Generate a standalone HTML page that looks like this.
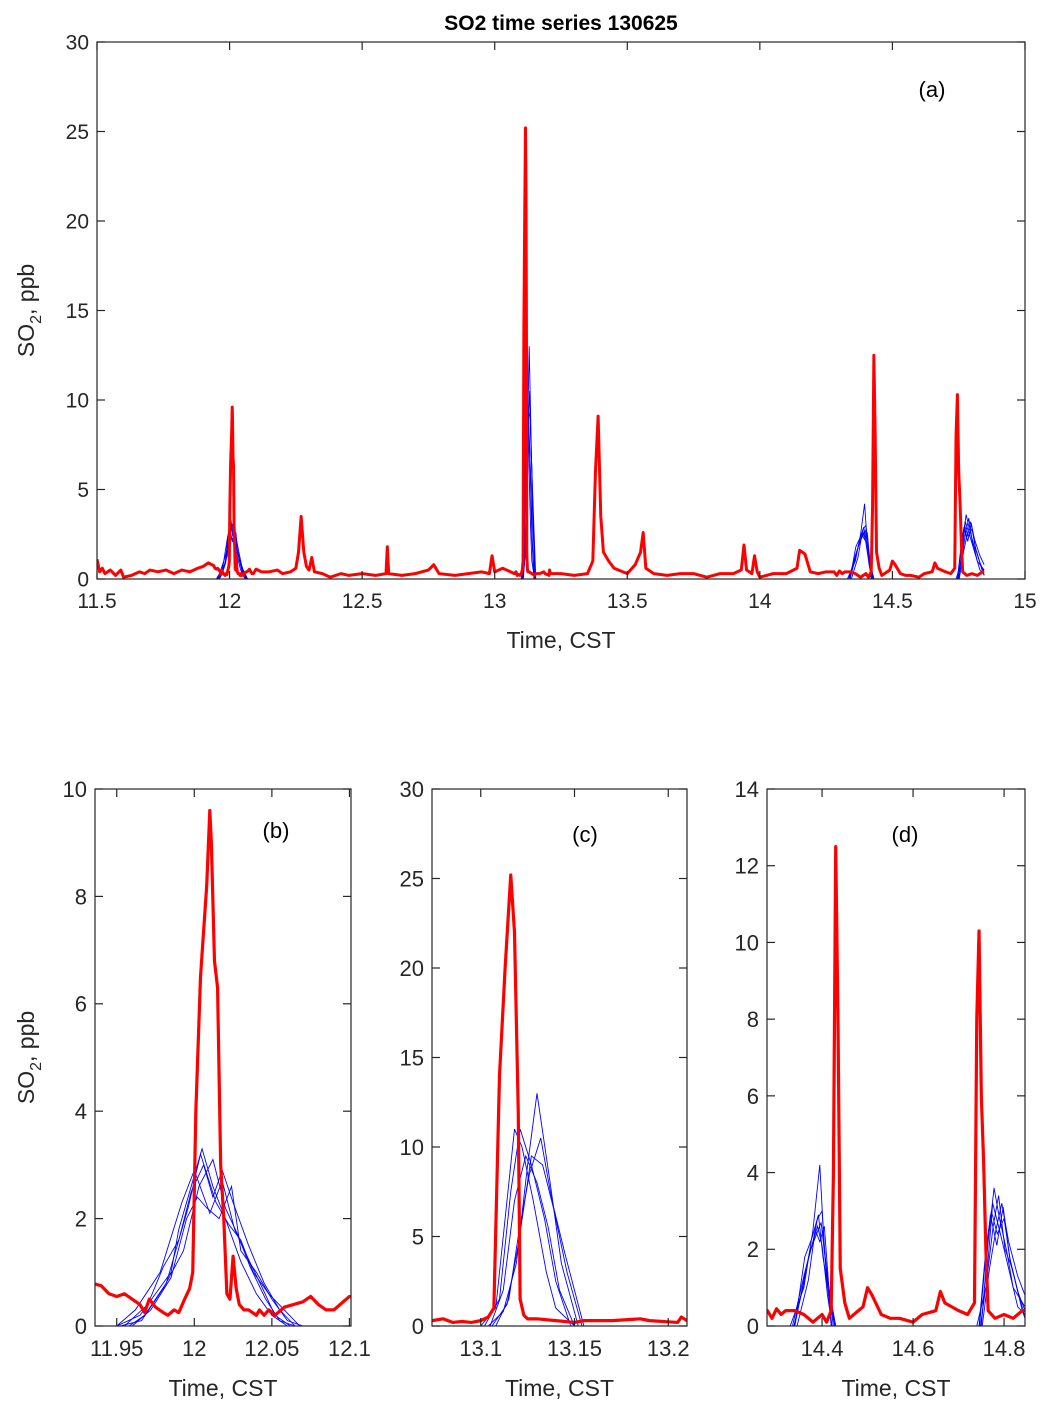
<!DOCTYPE html>
<html><head><meta charset="utf-8"><style>
body{margin:0;background:#fff}
svg{display:block;font-family:"Liberation Sans",Arial,sans-serif}
</style></head><body>
<svg id="fig" width="1056" height="1416" viewBox="0 0 1056 1416" xmlns="http://www.w3.org/2000/svg">
<text x="561" y="30" font-size="21" font-weight="bold" text-anchor="middle" fill="#000">SO2 time series 130625</text>
</svg>
<script>
// ---- data ----
const redT=[11.5,11.51,11.52,11.53,11.55,11.57,11.59,11.6,11.63,11.66,11.68,11.7,11.73,11.76,11.79,11.82,11.85,11.88,11.9,11.92,11.936,11.94,11.945,11.95,11.955,11.96,11.965,11.968,11.971,11.975,11.98,11.983,11.987,11.99,11.993,11.997,11.999,12.001,12.004,12.008,12.01,12.011,12.013,12.015,12.017,12.019,12.021,12.023,12.025,12.027,12.029,12.032,12.035,12.04,12.042,12.045,12.048,12.052,12.058,12.07,12.075,12.08,12.085,12.09,12.1,12.12,12.15,12.18,12.2,12.23,12.25,12.26,12.27,12.28,12.29,12.3,12.31,12.32,12.35,12.38,12.42,12.45,12.5,12.55,12.59,12.595,12.6,12.65,12.7,12.75,12.77,12.79,12.85,12.9,12.95,12.98,12.99,13.0,13.03,13.06,13.074,13.08,13.085,13.09,13.095,13.1,13.104,13.107,13.11,13.113,13.116,13.118,13.12,13.121,13.123,13.125,13.13,13.14,13.15,13.155,13.17,13.185,13.19,13.205,13.207,13.21,13.25,13.3,13.35,13.37,13.38,13.39,13.4,13.41,13.43,13.45,13.5,13.53,13.55,13.56,13.57,13.6,13.65,13.7,13.75,13.8,13.85,13.9,13.93,13.94,13.95,13.97,13.98,13.99,14.0,14.05,14.1,14.14,14.15,14.17,14.19,14.22,14.25,14.28,14.29,14.3,14.31,14.32,14.34,14.36,14.38,14.39,14.4,14.41,14.42,14.425,14.43,14.435,14.44,14.45,14.46,14.48,14.49,14.5,14.51,14.53,14.55,14.57,14.6,14.62,14.65,14.66,14.67,14.7,14.72,14.735,14.74,14.745,14.75,14.755,14.76,14.765,14.78,14.8,14.82,14.84,14.846];
const redV=[1.1,0.4,0.6,0.3,0.5,0.2,0.5,0.1,0.2,0.4,0.3,0.5,0.4,0.5,0.3,0.5,0.4,0.6,0.7,0.9,0.78,0.75,0.6,0.55,0.6,0.5,0.4,0.25,0.5,0.35,0.25,0.2,0.3,0.25,0.45,0.7,1.0,4.0,6.5,8.2,9.6,9.0,6.8,6.3,3.0,2.0,0.6,0.5,1.3,0.7,0.4,0.3,0.3,0.2,0.3,0.2,0.3,0.2,0.35,0.45,0.55,0.4,0.3,0.3,0.55,0.4,0.4,0.5,0.3,0.4,0.6,1.5,3.5,1.5,0.7,0.5,1.2,0.4,0.3,0.1,0.3,0.2,0.3,0.2,0.3,1.8,0.3,0.2,0.3,0.5,0.8,0.3,0.2,0.3,0.4,0.3,1.3,0.4,0.6,0.4,0.3,0.4,0.2,0.25,0.2,0.3,0.5,1.0,14,20,25.2,22,12,1.5,0.6,0.4,0.4,0.3,0.2,0.3,0.3,0.4,0.3,0.2,0.5,0.3,0.3,0.2,0.3,1.0,6,9.1,3.5,1.5,1.0,0.6,0.3,0.8,1.5,2.6,0.6,0.3,0.2,0.3,0.3,0.1,0.3,0.3,0.5,1.9,0.5,0.3,1.3,0.4,0.1,0.3,0.3,0.6,1.6,1.4,0.4,0.3,0.4,0.4,0.2,0.45,0.3,0.4,0.4,0.3,0.1,0.2,0.3,0.1,0.4,4,12.5,8,1.5,0.6,0.2,0.4,0.5,1.0,0.8,0.3,0.2,0.2,0.1,0.3,0.4,0.9,0.6,0.4,0.3,0.6,8,10.3,6,4.3,2,0.4,0.2,0.3,0.2,0.4,0.4];

const blueT1=[11.5,11.95,11.965,11.975,11.985,11.99,12.0,12.005,12.012,12.02,12.03,12.04,12.05,12.06,13.1,13.108,13.113,13.118,13.122,13.128,13.135,13.14,13.15,14.33,14.36,14.38,14.395,14.405,14.42,14.43,14.74,14.76,14.775,14.79,14.81,14.83,14.846];
const blueV1=[0,0,0.2,0.6,1.0,1.8,2.8,3.3,2.6,2.0,1.2,0.6,0.2,0,0,1.0,6,11,10,7,3,1,0,0,1,2.5,4.2,2,0.5,0,0,1,3.2,2.5,1.5,0.5,0.3];
const blueT2=[11.5,11.955,11.97,11.98,11.99,11.998,12.006,12.012,12.018,12.025,12.035,12.045,12.055,12.065,13.105,13.112,13.118,13.124,13.13,13.136,13.142,13.15,14.34,14.365,14.38,14.39,14.4,14.41,14.425,14.75,14.765,14.778,14.79,14.805,14.82,14.846];
const blueV2=[0,0,0.4,1.1,1.6,2.5,3.0,2.4,2.9,2.3,1.5,0.8,0.3,0,0,2,7,9.5,8,5.5,2,0,0,1.5,2.2,2.8,3.0,1.2,0,0,2.2,3.6,2.8,2.0,1.0,0.5];
const blueT3=[11.5,11.96,11.972,11.985,11.995,12.002,12.008,12.016,12.024,12.03,12.04,12.05,12.06,12.07,13.108,13.115,13.12,13.126,13.132,13.138,13.145,13.155,14.345,14.37,14.385,14.395,14.405,14.415,14.43,14.752,14.768,14.782,14.795,14.81,14.83,14.846];
const blueV3=[0,0,0.3,0.9,2.0,2.4,2.2,2.0,2.6,1.4,1.0,0.5,0.1,0,0,1.5,5,8.5,10.5,7,4,0,0,1.2,2.5,2.2,2.6,1.0,0,0,1.5,2.5,3.2,2.2,1.3,0.8];
const blueT4=[11.5,11.95,11.962,11.978,11.992,12.0,12.01,12.018,12.026,12.034,12.044,12.052,12.062,13.102,13.11,13.116,13.121,13.127,13.134,13.14,13.148,14.335,14.36,14.375,14.39,14.4,14.412,14.422,14.745,14.76,14.772,14.785,14.8,14.815,14.835,14.846];
const blueV4=[0,0,0.3,1.0,2.3,2.9,2.1,2.7,1.8,1.3,0.7,0.2,0,0,1.5,7.5,11,9,6,2.5,0,0,1.3,2.0,2.6,2.1,0.8,0,0,2.0,3.0,2.4,2.8,1.6,0.7,0.2];
const blueT5=[11.5,11.958,11.968,11.982,11.996,12.004,12.014,12.022,12.03,12.038,12.048,12.058,12.068,13.104,13.112,13.119,13.125,13.13,13.137,13.143,13.152,14.34,14.362,14.378,14.392,14.402,14.418,14.428,14.748,14.762,14.776,14.788,14.802,14.818,14.84,14.846];
const blueV5=[0,0,0.2,0.8,2.2,3.2,2.3,1.9,1.6,1.0,0.6,0.3,0,0,0.8,3.5,9,13,8,3.5,0,0,1.8,2.3,2.9,1.8,0.6,0,0,1.2,2.6,3.4,2.0,1.5,0.4,0.2];
const blueT6=[11.5,11.952,11.966,11.98,11.993,12.003,12.012,12.02,12.028,12.036,12.046,12.055,12.065,13.106,13.114,13.12,13.127,13.133,13.139,13.146,13.154,14.338,14.358,14.372,14.388,14.398,14.41,14.42,14.746,14.758,14.77,14.784,14.798,14.812,14.83,14.846];
const blueV6=[0,0,0.1,0.7,1.4,2.6,3.1,2.2,1.7,1.1,0.5,0.1,0,0,1.2,4.5,9.5,9,6.5,3,0,0,1.0,1.9,2.4,2.7,1.4,0,0,1.6,2.9,2.1,3.1,1.8,0.9,0.4];
const blueTs=[blueT1,blueT2,blueT3,blueT4,blueT5,blueT6];
const blueVs=[blueV1,blueV2,blueV3,blueV4,blueV5,blueV6];

const ticksAx=[11.5,12,12.5,13,13.5,14,14.5,15];
const ticksAy=[0,5,10,15,20,25,30];
const ticksBx=[11.95,12,12.05,12.1];
const ticksBy=[0,2,4,6,8,10];
const ticksCx=[13.1,13.15,13.2];
const ticksCy=[0,5,10,15,20,25,30];
const ticksDx=[14.4,14.6,14.8];
const ticksDy=[0,2,4,6,8,10,12,14];

// ---- drawing ----
const NS="http://www.w3.org/2000/svg";
const svg=document.getElementById('fig');
function mk(tag,attrs,parent){const e=document.createElementNS(NS,tag);for(const k in attrs)e.setAttribute(k,attrs[k]);(parent||svg).appendChild(e);return e;}

const panels=[
 {id:'a',x0:97,x1:1025,y0:579,y1:42,xmin:11.5,xmax:15,ymin:0,ymax:30,tx:ticksAx,ty:ticksAy,fs:21,lw:3,label:'(a)',lx:932,ly:97,ylab:true,xlabY:648,ylx:34},
 {id:'b',x0:95,x1:351,y0:1326,y1:789,xmin:11.936,xmax:12.101,ymin:0,ymax:10,tx:ticksBx,ty:ticksBy,fs:22,lw:3.2,label:'(b)',lx:276,ly:838,ylab:true,xlabY:1396,ylx:34},
 {id:'c',x0:432,x1:687,y0:1326,y1:789,xmin:13.074,xmax:13.21,ymin:0,ymax:30,tx:ticksCx,ty:ticksCy,fs:22,lw:3.2,label:'(c)',lx:585,ly:842,ylab:false,xlabY:1396},
 {id:'d',x0:767,x1:1025,y0:1326,y1:789,xmin:14.279,xmax:14.846,ymin:0,ymax:14,tx:ticksDx,ty:ticksDy,fs:22,lw:3.2,label:'(d)',lx:905,ly:842,ylab:false,xlabY:1396}
];

panels.forEach(p=>{
  const sx=v=>p.x0+(v-p.xmin)/(p.xmax-p.xmin)*(p.x1-p.x0);
  const sy=v=>p.y0-(v-p.ymin)/(p.ymax-p.ymin)*(p.y0-p.y1);
  const g=mk('g',{});
  
  
  const cp=mk('clipPath',{id:'clip-'+p.id},g);
  mk('rect',{x:p.x0,y:p.y1,width:p.x1-p.x0,height:p.y0-p.y1},cp);
  mk('rect',{x:p.x0,y:p.y1,width:p.x1-p.x0,height:p.y0-p.y1,fill:'#fff'},g);
  const plot=mk('g',{'clip-path':'url(#clip-'+p.id+')'},g);
  // blue ensemble
  blueTs.forEach((ts,i)=>{
    const vs=blueVs[i];
    const d=ts.map((t,j)=>(j?'L':'M')+sx(t).toFixed(2)+','+sy(vs[j]).toFixed(2)).join('');
    const pl=mk('path',{d:d,fill:'none',stroke:'#0000ff','stroke-width':0.9},plot);
    
    
  });
  const dr=redT.map((t,j)=>(j?'L':'M')+sx(t).toFixed(2)+','+sy(redV[j]).toFixed(2)).join('');
  const rl=mk('path',{d:dr,fill:'none',stroke:'#ff0000','stroke-width':p.lw,'stroke-linejoin':'round'},plot);
  
  
  // box
  mk('rect',{x:p.x0,y:p.y1,width:p.x1-p.x0,height:p.y0-p.y1,fill:'none',stroke:'#262626','stroke-width':1.2},g);
  // ticks
  p.tx.forEach(t=>{
    const x=sx(t);
    mk('line',{x1:x,x2:x,y1:p.y0,y2:p.y0-8,stroke:'#262626','stroke-width':1.2},g);
    mk('line',{x1:x,x2:x,y1:p.y1,y2:p.y1+8,stroke:'#262626','stroke-width':1.2},g);
    const tl=mk('text',{x:x,y:p.y0+p.fs+8,'font-size':p.fs,'text-anchor':'middle',fill:'#262626'},g);
    tl.textContent=String(t);
    
    
  });
  p.ty.forEach(t=>{
    const y=sy(t);
    mk('line',{x1:p.x0,x2:p.x0+8,y1:y,y2:y,stroke:'#262626','stroke-width':1.2},g);
    mk('line',{x1:p.x1,x2:p.x1-8,y1:y,y2:y,stroke:'#262626','stroke-width':1.2},g);
    const tl=mk('text',{x:p.x0-8,y:y+p.fs*0.36,'font-size':p.fs,'text-anchor':'end',fill:'#262626'},g);
    tl.textContent=String(t);
    
    
  });
  const lab=mk('text',{x:p.lx,y:p.ly,'font-size':22,'text-anchor':'middle',fill:'#000'},g);
  lab.textContent=p.label;
  
  
  const xl=mk('text',{x:(p.x0+p.x1)/2,y:p.xlabY,'font-size':23,'text-anchor':'middle',fill:'#262626'},g);
  xl.textContent='Time, CST';
  
  
  if(p.ylab){
    const cy=(p.y0+p.y1)/2;
    const yl=mk('text',{x:0,y:0,'font-size':23,'text-anchor':'middle',fill:'#262626',transform:'translate('+p.ylx+','+cy+') rotate(-90)'},g);
    
    
    const a=mk('tspan',{},yl);a.textContent='SO';
    const b=mk('tspan',{dy:7,'font-size':16},yl);b.textContent='2';
    const c=mk('tspan',{dy:-7},yl);c.textContent=', ppb';
  }
});
</script>
</body></html>
